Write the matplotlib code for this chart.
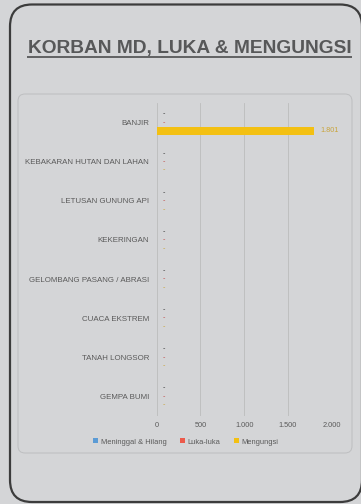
import matplotlib.pyplot as plt
from matplotlib.patches import FancyBboxPatch
import numpy as np

# data
categories = ["BANJIR", "KEBAKARAN HUTAN DAN LAHAN", "LETUSAN GUNUNG API",
              "KEKERINGAN", "GELOMBANG PASANG / ABRASI", "CUACA EKSTREM",
              "TANAH LONGSOR", "GEMPA BUMI"]
series_names = ["Meninggal & Hilang", "Luka-luka", "Mengungsi"]
meninggal = [0, 0, 0, 0, 0, 0, 0, 0]
luka = [0, 0, 0, 0, 0, 0, 0, 0]
mengungsi = [1801, 0, 0, 0, 0, 0, 0, 0]
x_ticks = [0, 500, 1000, 1500, 2000]

bar_colors = ["#5b9bd5", "#ec5a4b", "#f3c012"]
label_colors = ["#3a3a3a", "#c0504d", "#c9a43c"]
bg = "#d4d5d7"
W, H = 361, 504

fig = plt.figure(figsize=(W / 100, H / 100), dpi=100, facecolor=bg)

# background layer in pixel coords
bgax = fig.add_axes([0, 0, 1, 1], zorder=0)
bgax.set_xlim(0, W)
bgax.set_ylim(H, 0)
bgax.axis("off")
outer = FancyBboxPatch((10, 4.5), 352, 497.5, boxstyle="round,pad=0,rounding_size=22",
                       facecolor=bg, edgecolor="#3c3c3c", linewidth=1.6)
bgax.add_patch(outer)
inner = FancyBboxPatch((18, 94), 334, 359, boxstyle="round,pad=0,rounding_size=7",
                       facecolor=bg, edgecolor="#bdbec0", linewidth=0.7)
bgax.add_patch(inner)

title = bgax.text(189.5, 52.5, "KORBAN MD, LUKA & MENGUNGSI", ha="center", va="baseline",
                  fontsize=17.5, fontweight="bold", color="#575859",
                  family=["Liberation Sans", "DejaVu Sans"])
# shrink title to the width it has in the reference (about 325 px)
renderer = fig.canvas.get_renderer()
w = title.get_window_extent(renderer).width
title.set_fontsize(17.5 * 325 / w)
bgax.plot([27, 352], [56.5, 56.5], color="#575859", lw=1.3, solid_capstyle="butt")

# chart
ax = fig.add_axes([156.7 / W, 88 / H, 175 / W, 313 / H], zorder=1)
ax.set_facecolor("none")
y = np.arange(len(categories))
h = 0.215
values = [meninggal, luka, mengungsi]
for i, (vals, name) in enumerate(zip(values, series_names)):
    bars = ax.barh(y + (i - 1) * h, vals, height=h, color=bar_colors[i], label=name)
    labs = ["-" if v == 0 else f"{v:,}".replace(",", ".") for v in vals]
    ax.bar_label(bars, labels=labs, padding=4.5, fontsize=5.2, color=label_colors[i],
                 family="Liberation Sans")

ax.set_xlim(0, 2000)
ax.set_ylim(len(categories) - 0.5, -0.5)
ax.set_xticks(x_ticks)
ax.set_xticklabels([f"{t:,}".replace(",", ".") for t in x_ticks])
ax.set_yticks(y)
ax.set_yticklabels(categories)
for lab in ax.get_xticklabels() + ax.get_yticklabels():
    lab.set_family("Liberation Sans")
ax.tick_params(axis="x", length=0, pad=4, labelsize=5.3, labelcolor="#5a5a5a")
ax.tick_params(axis="y", length=0, pad=5.5, labelsize=5.7, labelcolor="#5a5a5a")
for s in ax.spines.values():
    s.set_visible(False)
ax.grid(axis="x", color="#bcbcbc", lw=0.6)
ax.set_axisbelow(True)

fig.legend(loc="center", bbox_to_anchor=(186 / W, 1 - 442 / H), ncol=3, frameon=False,
           handlelength=0.6, handleheight=0.6, handletextpad=0.4,
           columnspacing=1.8, labelcolor="#5a5a5a", prop={"family": "Liberation Sans", "size": 5.4})

fig.savefig("out.png", dpi=100, facecolor=bg)
